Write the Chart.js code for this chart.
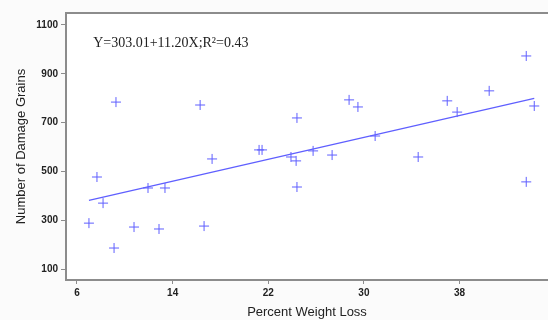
<!DOCTYPE html>
<html>
<head>
<meta charset="utf-8">
<script src="https://cdn.jsdelivr.net/npm/chart.js@4.4.1/dist/chart.umd.min.js"></script>
<style>
  html, body { margin: 0; padding: 0; background: #fbfbfb; }
  #wrap { width: 548px; height: 320px; }
</style>
</head>
<body>
<div id="wrap"><canvas id="chart" width="548" height="320"></canvas></div>
<script>
// data
const weightLoss = [7.0, 7.67, 8.18, 9.1, 9.26, 10.77, 11.94, 12.86, 13.36, 16.3,
  16.63, 17.3, 21.23, 21.48, 23.9, 24.33, 24.4, 24.4, 25.75, 27.34,
  28.76, 29.5, 30.94, 34.54, 36.97, 37.8, 40.48, 43.58, 43.58, 44.25];
const damageGrains = [288, 477, 370, 186, 784, 272, 432, 264, 432, 772,
  276, 551, 588, 588, 559, 543, 719, 436, 584, 567,
  793, 764, 645, 559, 789, 743, 830, 973, 457, 768];

// fitted line end points
const fitX = [7.0, 44.25];
const fitY = [381, 799];

const xTicks = [6, 14, 22, 30, 38];
const yTicks = [100, 300, 500, 700, 900, 1100];

const equationText = "Y=303.01+11.20X;R\u00b2=0.43";
const equationAt = [7.35, 1026];

const blue = "rgb(95,95,255)";
const axisGray = "#8c8c8c";

/* white plot area + top frame line + equation */
const framePlugin = {
  id: "frame",
  beforeDraw(chart) {
    const { ctx, chartArea: a } = chart;
    ctx.save();
    ctx.fillStyle = "#ffffff";
    ctx.fillRect(a.left, a.top, a.right - a.left, a.bottom - a.top);
    ctx.restore();
  },
  afterDraw(chart) {
    const { ctx, chartArea: a, scales } = chart;
    ctx.save();
    ctx.strokeStyle = axisGray;
    ctx.lineWidth = 2;
    ctx.beginPath();
    ctx.moveTo(a.left - 1, a.top);
    ctx.lineTo(a.right, a.top);
    ctx.stroke();

    ctx.fillStyle = "#222";
    ctx.font = "14px 'Liberation Serif'";
    ctx.textBaseline = "middle";
    ctx.fillText(equationText,
      scales.x.getPixelForValue(equationAt[0]),
      scales.y.getPixelForValue(equationAt[1]));
    ctx.restore();
  }
};

const tickFont = { family: "Arial, 'Liberation Sans'", size: 10, weight: "bold" };
const titleFont = { family: "Arial, 'Liberation Sans'", size: 13 };

new Chart(document.getElementById("chart"), {
  type: "scatter",
  data: {
    datasets: [
      {
        data: weightLoss.map((x, i) => ({ x, y: damageGrains[i] })),
        pointStyle: "cross",
        pointRadius: 5,
        borderColor: blue,
        borderWidth: 1,
        showLine: false
      },
      {
        data: fitX.map((x, i) => ({ x, y: fitY[i] })),
        showLine: true,
        pointRadius: 0,
        borderColor: blue,
        borderWidth: 1.2,
        fill: false
      }
    ]
  },
  options: {
    responsive: false,
    animation: false,
    layout: { autoPadding: false, padding: { top: 13, right: 0, left: 0, bottom: 0 } },
    plugins: { legend: { display: false }, tooltip: { enabled: false } },
    scales: {
      x: {
        type: "linear",
        position: "bottom",
        min: 5.08,
        max: 45.4,
        afterBuildTicks: s => { s.ticks = xTicks.map(v => ({ value: v })); },
        afterFit: s => { s.height = 40; },
        ticks: { font: tickFont, color: "#222", padding: 3, maxRotation: 0, callback: v => String(v) },
        grid: { drawOnChartArea: false, tickLength: 4, color: axisGray },
        border: { color: axisGray, width: 2 },
        title: { display: true, text: "Percent Weight Loss", font: titleFont, color: "#222", padding: 0 }
      },
      y: {
        type: "linear",
        min: 55,
        max: 1149,
        afterBuildTicks: s => { s.ticks = yTicks.map(v => ({ value: v })); },
        afterFit: s => { s.width = 66; },
        ticks: { font: tickFont, color: "#222", padding: 3, callback: v => String(v) },
        grid: { drawOnChartArea: false, tickLength: 5, color: axisGray },
        border: { color: axisGray, width: 2 },
        title: { display: true, text: "Number of Damage Grains", font: titleFont, color: "#222", padding: { top: 14 } }
      }
    }
  },
  plugins: [framePlugin]
});
</script>
</body>
</html>
